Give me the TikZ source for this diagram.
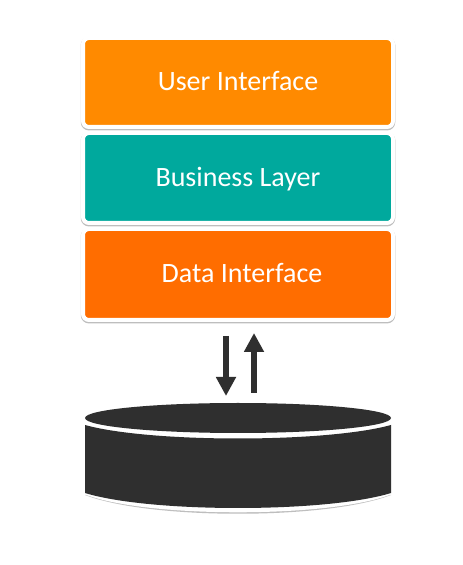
\documentclass[tikz,border=0pt]{standalone}
\usepackage{fontspec}
\setmainfont{Carlito}
\usetikzlibrary{arrows.meta,shapes.geometric}
\definecolor{userorange}{HTML}{FF8A00}
\definecolor{bizteal}{HTML}{00A99D}
\definecolor{dataorange}{HTML}{FF6D00}
\definecolor{dbdark}{HTML}{2F2F2F}
\definecolor{rimgray}{HTML}{BEBEBE}
\tikzset{
  layerbox/.style={minimum width=310pt,inner sep=0pt,rounded corners=6pt,
    draw=white,line width=4pt,text=white,font=\fontsize{28}{32}\selectfont,
    text height=23pt,text depth=6pt,
    preaction={draw=rimgray,line width=4.5pt,transform canvas={yshift=-1.2pt}}},
  flowarrow/.style={draw=dbdark,line width=6.5pt,-{Triangle[length=19pt,width=19pt]}}
}
\begin{document}
\begin{tikzpicture}[x=1pt,y=1pt]
\useasboundingbox (0,0) rectangle (463,565);
\fill[white] (0,0) rectangle (463,565);
% layers
\node[layerbox,fill=userorange,minimum height=89pt] (userif) at (238,482.5) {User Interface};
\node[layerbox,fill=bizteal,minimum height=90pt] (bizlayer) at (238,387) {Business Layer};
\node[layerbox,fill=dataorange,minimum height=91pt] (dataif) at (238,290.5) {\hspace*{8pt}Data Interface};
% database
\fill[rimgray] (85,70) .. controls (150,45) and (326,45) .. (391,70) -- cycle;
\fill[white,rounded corners=2pt] (81,138) -- (81,76) -- (85,70.5) .. controls (150,47) and (326,47) .. (391,70.5)
  -- (395,76) -- (395,138) -- cycle;
\fill[dbdark] (85,140) -- (85,72) .. controls (150,52) and (326,52) .. (391,72)
  -- (391,140) .. controls (326,122) and (150,122) .. (85,140) -- cycle;
\node[ellipse,fill=dbdark,inner sep=0pt,minimum width=306pt,minimum height=30pt] (dbtop) at (238,147) {};
% arrows
\coordinate (downstart) at (226,229);
\coordinate (downend) at (226,169);
\coordinate (upstart) at (254,172);
\coordinate (upend) at (254,232);
\draw[flowarrow] (downstart) -- (downend);
\draw[flowarrow] (upstart) -- (upend);
\end{tikzpicture}
\end{document}
